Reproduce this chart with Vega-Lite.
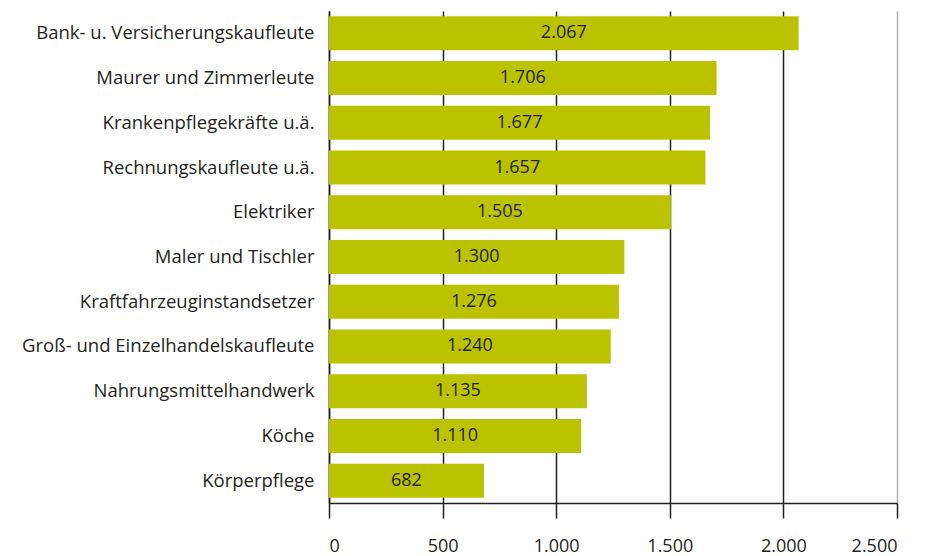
{
  "$schema": "https://vega.github.io/schema/vega-lite/v6.json",
  "width": 568,
  "height": 492,
  "autosize": {"type": "none"},
  "padding": {"left": 329, "top": 11, "right": 29, "bottom": 53},
  "background": "white",
  "config": {
    "locale": {"number": {"decimal": ",", "thousands": ".", "grouping": [3], "currency": ["", " €"]}},
    "view": {"stroke": null},
    "font": "Open Sans"
  },
  "data": {"values": [
    {"beruf": "Bank- u. Versicherungskaufleute", "wert": 2067},
    {"beruf": "Maurer und Zimmerleute", "wert": 1706},
    {"beruf": "Krankenpflegekräfte u.ä.", "wert": 1677},
    {"beruf": "Rechnungskaufleute u.ä.", "wert": 1657},
    {"beruf": "Elektriker", "wert": 1505},
    {"beruf": "Maler und Tischler", "wert": 1300},
    {"beruf": "Kraftfahrzeuginstandsetzer", "wert": 1276},
    {"beruf": "Groß- und Einzelhandelskaufleute", "wert": 1240},
    {"beruf": "Nahrungsmittelhandwerk", "wert": 1135},
    {"beruf": "Köche", "wert": 1110},
    {"beruf": "Körperpflege", "wert": 682}
  ]},
  "encoding": {
    "y": {
      "field": "beruf", "type": "nominal", "sort": null,
      "scale": {"paddingInner": 0.24, "paddingOuter": 0.12},
      "axis": {"title": null, "ticks": false, "labelPadding": 15, "labelFontSize": 18.5, "labelLimit": 400, "labelColor": "#231f20", "domainColor": "#231f20", "domainWidth": 1.5, "labelFont": "Open Sans"}
    }
  },
  "layer": [
    {
      "mark": {"type": "bar", "color": "#bbc300"},
      "encoding": {
        "x": {
          "field": "wert", "type": "quantitative",
          "scale": {"domain": [0, 2500], "nice": false},
          "axis": {
            "title": null, "values": [0, 500, 1000, 1500, 2000, 2500], "format": ",d",
            "grid": true,
            "gridColor": {"condition": {"test": "datum.value == 2500", "value": "#b0b0b0"}, "value": "#231f20"},
            "gridWidth": 1.5, "gridOpacity": 1,
            "domainColor": "#231f20", "domainWidth": 1.5,
            "tickColor": "#231f20", "tickWidth": 1.5, "tickSize": 15,
            "labelFontSize": 18, "labelColor": "#231f20", "labelPadding": 19, "labelFont": "Open Sans"
          }
        }
      }
    },
    {
      "mark": {"type": "text", "fontSize": 18, "color": "#231f20", "align": "center", "baseline": "middle"},
      "encoding": {
        "x": {"field": "wert", "type": "quantitative", "stack": "zero", "bandPosition": 0.5},
        "text": {"field": "wert", "type": "quantitative", "format": ",d"}
      }
    }
  ]
}
